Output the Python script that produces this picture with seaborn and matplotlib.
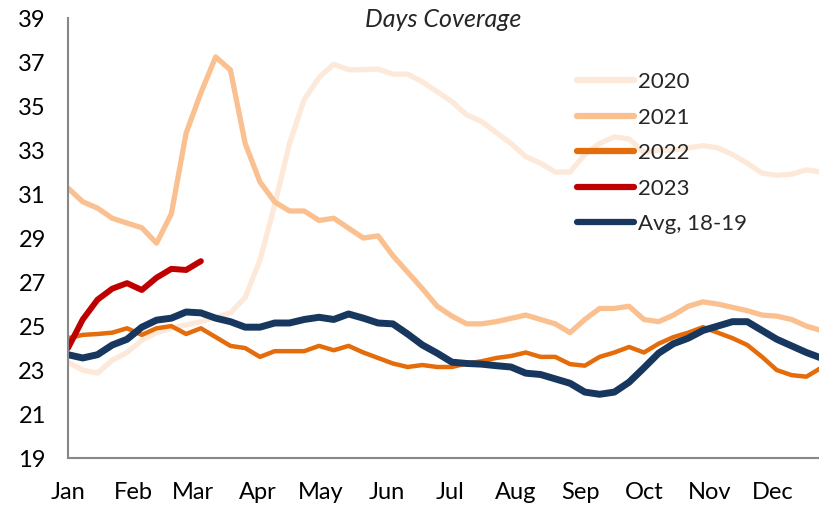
import numpy as np
import pandas as pd
import matplotlib
matplotlib.use("Agg")
import matplotlib.pyplot as plt
import seaborn as sns

# weekly readings, day-of-year = week * 7
y2020 = [23.36, 23.0, 22.86, 23.45, 23.8, 24.36, 24.7, 24.9, 25.05, 25.2,
         25.4, 25.6, 26.3, 28.0, 30.5, 33.3, 35.3, 36.3, 36.9, 36.65,
         36.65, 36.68, 36.45, 36.45, 36.1, 35.65, 35.2, 34.6, 34.3, 33.8,
         33.3, 32.7, 32.4, 32.0, 32.0, 32.8, 33.3, 33.6, 33.5, 32.9,
         33.0, 33.0, 33.1, 33.2, 33.1, 32.8, 32.4, 31.95, 31.85, 31.9,
         32.1, 32.0]
y2021 = [31.27, 30.65, 30.36, 29.9, 29.68, 29.47, 28.77, 30.1, 33.77, 35.6,
         37.23, 36.64, 33.3, 31.55, 30.64, 30.23, 30.23, 29.8, 29.9, 29.45,
         29.0, 29.1, 28.2, 27.45, 26.7, 25.9, 25.45, 25.1, 25.1, 25.2,
         25.35, 25.5, 25.3, 25.1, 24.7, 25.3, 25.8, 25.8, 25.9, 25.3,
         25.2, 25.5, 25.9, 26.1, 26.0, 25.85, 25.7, 25.5, 25.45, 25.3,
         25.0, 24.8]
y2022 = [24.45, 24.6, 24.64, 24.7, 24.9, 24.6, 24.9, 25.0, 24.64, 24.9,
         24.5, 24.1, 24.0, 23.6, 23.86, 23.86, 23.86, 24.1, 23.9, 24.1,
         23.8, 23.55, 23.3, 23.14, 23.23, 23.14, 23.14, 23.3, 23.4, 23.55,
         23.64, 23.8, 23.6, 23.6, 23.27, 23.2, 23.6, 23.8, 24.05, 23.8,
         24.2, 24.5, 24.7, 24.95, 24.7, 24.45, 24.14, 23.6, 23.0, 22.77,
         22.7, 23.1]
y2023 = [24.0, 25.3, 26.2, 26.7, 26.95, 26.64, 27.2, 27.6, 27.55, 27.95]
avg_18_19 = [23.7, 23.55, 23.7, 24.14, 24.4, 24.95, 25.27, 25.36, 25.64, 25.6,
             25.36, 25.2, 24.95, 24.95, 25.14, 25.14, 25.3, 25.4, 25.3, 25.55,
             25.36, 25.14, 25.1, 24.64, 24.14, 23.77, 23.36, 23.3, 23.27, 23.2,
             23.14, 22.86, 22.8, 22.6, 22.4, 22.0, 21.9, 22.0, 22.45, 23.1,
             23.77, 24.2, 24.45, 24.8, 25.0, 25.2, 25.2, 24.8, 24.4, 24.1,
             23.8, 23.55]

months = ["Jan", "Feb", "Mar", "Apr", "May", "Jun", "Jul", "Aug", "Sep", "Oct", "Nov", "Dec"]
month_start = [0, 31, 59, 90, 120, 151, 181, 212, 243, 273, 304, 334]

series = [
    ("2020", y2020, "#FDE9D9", 3.8),
    ("2021", y2021, "#FAC090", 3.8),
    ("2022", y2022, "#E46C0A", 3.2),
    ("2023", y2023, "#C00000", 4.3),
    ("Avg, 18-19", avg_18_19, "#17375E", 5.0),
]

sns.set_style("white")
plt.rcParams["font.family"] = ["Lato", "DejaVu Sans"]

fig = plt.figure(figsize=(8.19, 5.09), dpi=100)
ax = fig.add_axes([0.083, 0.100, 0.917, 0.8646])

for name, vals, col, lw in series:
    days = np.arange(len(vals)) * 7
    sns.lineplot(x=days, y=vals, ax=ax, color=col, linewidth=lw, label=name)
for ln in ax.lines:
    ln.set_solid_joinstyle("round")

ax.set_xlim(0, 356)
ax.set_ylim(19, 39)
ax.set_yticks(range(19, 40, 2))
ax.set_xticks(month_start)
ax.set_xticklabels(months)
ax.tick_params(axis="both", labelsize=17, colors="#888888", labelcolor="black",
               length=6, width=1.5, direction="out")
ax.tick_params(axis="x", pad=11)
ax.tick_params(axis="y", pad=10)
for s in ["top", "right"]:
    ax.spines[s].set_visible(False)
for s in ["left", "bottom"]:
    ax.spines[s].set_color("#888888")
    ax.spines[s].set_linewidth(1.5)

ax.text(0.5, 0.996, "Days Coverage", transform=ax.transAxes, ha="center", va="center",
        fontsize=18, style="italic")

leg = ax.legend(loc="upper left", bbox_to_anchor=(577 / 819, 1 - 72 / 509),
                bbox_transform=fig.transFigure, frameon=False,
                fontsize=16, handlelength=2.55, handletextpad=0.2, labelspacing=0.7,
                borderpad=0, borderaxespad=0)
for h in leg.get_lines():
    h.set_linewidth(4.5)
    h.set_solid_capstyle("round")

plt.savefig("out.png", dpi=100)
